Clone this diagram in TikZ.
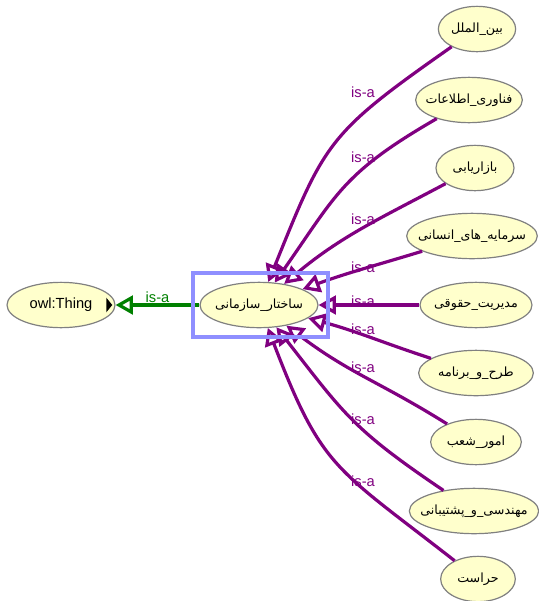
\documentclass[tikz,border=0pt]{standalone}
\usepackage{fontspec}
\setmainfont{Liberation Sans}
\newfontfamily\arabicfont[Script=Arabic]{DejaVu Sans}
\TeXXeTstate=1
\usetikzlibrary{arrows.meta,shapes.geometric}
\definecolor{conceptfill}{RGB}{255,255,204}
\definecolor{isapurple}{RGB}{128,0,128}
\definecolor{isagreen}{RGB}{0,128,0}
\definecolor{selblue}{RGB}{143,143,255}
\tikzset{
    concept/.style={ellipse, draw=gray, line width=0.9pt, fill=conceptfill,
        minimum height=34pt, inner ysep=0pt, inner xsep=-7pt,
        font=\arabicfont\fontsize{9.5}{11}\selectfont},
    isa/.style={draw=isapurple, line width=2.4pt,
        -{Triangle[open, length=13pt, width=14pt]}},
    isalabel/.style={text=isapurple, inner sep=0pt, font=\fontsize{11}{13}\selectfont},
    selbox/.style={draw=selblue, line width=3pt, minimum width=101pt,
        minimum height=48pt, inner sep=0pt}
}
\begin{document}
\begin{tikzpicture}[x=0.75pt, y=-0.75pt]
    \useasboundingbox (0, 0) rectangle (539, 601);

    \node[concept, minimum width=81pt, inner xsep=0pt, font=\fontsize{11}{13}\selectfont]
        (thing) at (61, 305) {owl:Thing};
    \fill ([xshift=-2.5pt]thing.east) -- ++(-4.5pt, 5.5pt) -- ++(0, -11pt) -- cycle;
    \node[concept, minimum width=88.5pt] (c) at (259, 305) {\beginR ساختار\_سازمانی\endR};

    \node[concept, minimum width=58pt] (n1) at (477, 29) {\beginR بین\_الملل\endR};
    \node[concept, minimum width=80pt] (n2) at (469, 100) {\beginR فناوری\_اطلاعات\endR};
    \node[concept, minimum width=58.5pt] (n3) at (475, 168) {\beginR بازاریابی\endR};
    \node[concept, minimum width=98pt] (n4) at (472, 236) {\beginR سرمایه\_های\_انسانی\endR};
    \node[concept, minimum width=84pt] (n5) at (476, 305) {\beginR مدیریت\_حقوقی\endR};
    \node[concept, minimum width=86pt] (n6) at (476, 373) {\beginR طرح\_و\_برنامه\endR};
    \node[concept, minimum width=68pt] (n7) at (476, 442) {\beginR امور\_شعب\endR};
    \node[concept, minimum width=97pt] (n8) at (474, 511) {\beginR مهندسی\_و\_پشتیبانی\endR};
    \node[concept, minimum width=56pt] (n9) at (478, 579) {\beginR حراست\endR};

    % is-a edges to the selected class
    \foreach \i/\o/\n/\l in {1/215/68/1.3, 2/210/55/1.2, 3/208/40/1, 4/197/20/1, 5/180/0/1,
                             6/162/-15/1, 7/148/-37/1.1, 8/146/-52/1.2, 9/142/-69/1.3}
        \draw[isa] (n\i) to[out=\o, in=\n, looseness=\l] (c);
    \foreach \y [count=\i] in {92, 157, 219, 267, 301, 329, 367, 419, 481}
        \node[isalabel] (lab\i) at (363, \y) {is-a};

    \draw[isa, draw=isagreen] (c) -- node[isalabel, text=isagreen, above=0.5pt] (lab0) {is-a} (thing);

    \node[selbox] (sel) at (260.5, 305) {};
\end{tikzpicture}
\end{document}
